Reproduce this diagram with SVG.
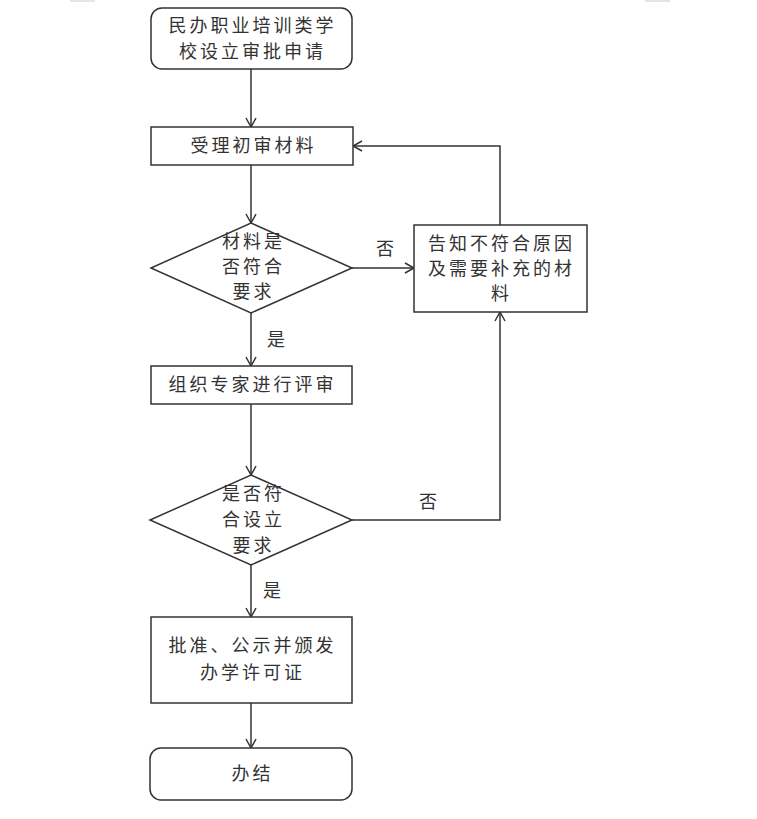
<svg xmlns="http://www.w3.org/2000/svg" width="757" height="819" viewBox="0 0 757 819">
<defs>
<style>
.n{fill:#fff;stroke:#333;stroke-width:1.5}
.t{font-family:"Noto Sans CJK SC","Noto Sans CJK JP",sans-serif;font-size:18px;fill:#333;text-anchor:middle;letter-spacing:3px}
.l{font-family:"Noto Sans CJK SC","Noto Sans CJK JP",sans-serif;font-size:18px;fill:#333;text-anchor:middle}
.c{fill:none;stroke:#333;stroke-width:1.5}
</style>
<marker id="a" markerWidth="12" markerHeight="12" refX="10" refY="6" orient="auto" markerUnits="userSpaceOnUse">
<path d="M1,1 L10,6 L1,11" fill="none" stroke="#333" stroke-width="1.5"/>
</marker>
</defs>
<rect width="757" height="819" fill="#fff"/>
<line x1="70" y1="1" x2="95" y2="1" stroke="#ddd" stroke-width="1.5"/>
<line x1="645" y1="1" x2="670" y2="1" stroke="#ddd" stroke-width="1.5"/>
<g id="connectors">
<line class="c" x1="251" y1="69" x2="251" y2="127" marker-end="url(#a)"/>
<line class="c" x1="251" y1="165" x2="251" y2="223" marker-end="url(#a)"/>
<line class="c" x1="352" y1="268" x2="414" y2="268" marker-end="url(#a)"/>
<polyline class="c" points="500,225 500,146 353,146" marker-end="url(#a)"/>
<line class="c" x1="251" y1="313" x2="251" y2="366" marker-end="url(#a)"/>
<line class="c" x1="251" y1="404" x2="251" y2="475" marker-end="url(#a)"/>
<polyline class="c" points="352,520 500,520 500,312" marker-end="url(#a)"/>
<line class="c" x1="251" y1="565" x2="251" y2="617" marker-end="url(#a)"/>
<line class="c" x1="251" y1="703" x2="251" y2="748" marker-end="url(#a)"/>
<text class="l" x="385" y="255">否</text>
<text class="l" x="276" y="346">是</text>
<text class="l" x="428" y="508">否</text>
<text class="l" x="272" y="597">是</text>
</g>
<g id="start">
<rect class="n" x="151" y="8" width="201" height="61" rx="11"/>
<text class="t" x="252.5" y="32">民办职业培训类学</text>
<text class="t" x="252.5" y="58">校设立审批申请</text>
</g>
<g id="accept">
<rect class="n" x="151" y="127" width="202" height="38"/>
<text class="t" x="253.5" y="152">受理初审材料</text>
</g>
<g id="check1">
<polygon class="n" points="251,223 352,268 251,313 151,268"/>
<text class="t" x="253.5" y="248">材料是</text>
<text class="t" x="253.5" y="273">否符合</text>
<text class="t" x="253.5" y="298">要求</text>
</g>
<g id="notify">
<rect class="n" x="414" y="225" width="173" height="87"/>
<text class="t" x="501.5" y="250">告知不符合原因</text>
<text class="t" x="501.5" y="275">及需要补充的材</text>
<text class="t" x="501.5" y="300">料</text>
</g>
<g id="review">
<rect class="n" x="151" y="366" width="201" height="38"/>
<text class="t" x="252.5" y="391">组织专家进行评审</text>
</g>
<g id="check2">
<polygon class="n" points="251,475 352,520 251,565 150,520"/>
<text class="t" x="253.5" y="500">是否符</text>
<text class="t" x="253.5" y="526">合设立</text>
<text class="t" x="253.5" y="552">要求</text>
</g>
<g id="approve">
<rect class="n" x="151" y="617" width="201" height="86"/>
<text class="t" x="252.5" y="652">批准、公示并颁发</text>
<text class="t" x="252.5" y="679">办学许可证</text>
</g>
<g id="end">
<rect class="n" x="150" y="748" width="202" height="52" rx="11"/>
<text class="t" x="252.5" y="780">办结</text>
</g>
</svg>
